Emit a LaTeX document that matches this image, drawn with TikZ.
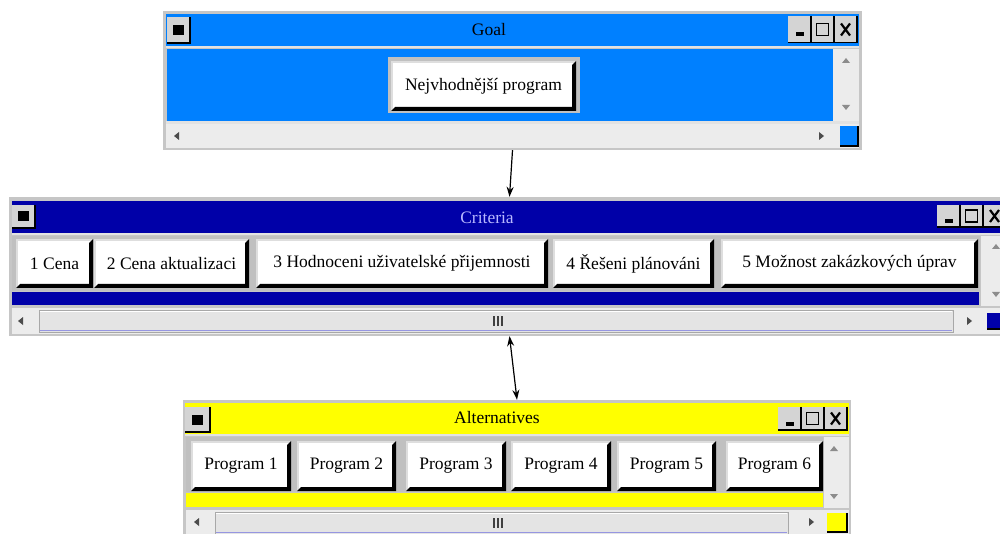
\documentclass[tikz,border=0pt]{standalone}
\usepackage{fontspec}
\setmainfont{Liberation Serif}
\usetikzlibrary{calc,arrows.meta}

\definecolor{goalblue}{RGB}{0,128,255}
\definecolor{critblue}{RGB}{0,0,168}
\definecolor{altyellow}{RGB}{255,255,0}
\definecolor{winframe}{RGB}{198,198,198}
\definecolor{panelgray}{RGB}{192,192,192}
\definecolor{scrollbg}{RGB}{236,236,236}
\definecolor{sepline}{RGB}{226,226,226}
\definecolor{btnhi}{RGB}{222,222,222}
\definecolor{tbtnface}{RGB}{212,212,212}
\definecolor{arrowgray}{RGB}{140,140,140}
\definecolor{trackface}{RGB}{228,228,228}
\definecolor{trackedge}{RGB}{168,168,168}
\definecolor{trackblue}{RGB}{150,150,225}
\definecolor{crittitle}{RGB}{185,185,255}

\newcommand\uifont{\fontsize{17.5}{20}\selectfont}

\tikzset{
  x=1pt, y=-1pt,
  winbox/.style={fill=winframe, draw=none, inner sep=0pt},
  uibtn/.style={fill=white, draw=btnhi, line width=2pt, inner sep=0pt,
    font=\uifont, text=black},
  tbtn/.style={fill=tbtnface, draw=none, inner sep=0pt},
  closebtn/.style={fill=tbtnface, draw=none, inner sep=0pt},
  cornerbox/.style={draw=none, inner sep=0pt},
  titletext/.style={font=\uifont, inner sep=0pt},
  conn/.style={line width=1.2pt, black},
  tip/.tip={Stealth[length=10pt,width=7pt]},
}

% raised push button: white face, light top/left edge, black bevel bottom/right
\newcommand\uibutton[6]{%
  \node[uibtn, minimum width={#4-#2}, minimum height={#5-#3}]
    (#1) at ({(#2+#4)/2},{(#3+#5)/2}) {#6};
  \fill[black] (#1.north east) -- (#1.south east) -- (#1.south west)
    -- ([shift={(4,-4)}]#1.south west) -- ([shift={(-4,-4)}]#1.south east)
    -- ([shift={(-4,4)}]#1.north east) -- cycle;
}

% black edge along the bottom and right side of a node
\newcommand\darkedge[2]{%
  \draw[black, line width=#2] (#1.north east) -- (#1.south east) -- (#1.south west);
}

% minimise / maximise / close buttons of a title bar
\newcommand\titlebtns[4]{%
  \node[tbtn, minimum width=23, minimum height=#4] (#1-min) at ({#2+11.5},#3) {};
  \node[tbtn, minimum width=23, minimum height=#4] (#1-max) at ({#2+34.5},#3) {};
  \node[tbtn, minimum width=23, minimum height=#4] (#1-cls) at ({#2+57.5},#3) {};
  \darkedge{#1-min}{1.6pt}\darkedge{#1-max}{1.6pt}\darkedge{#1-cls}{1.6pt}
  \fill[black] ($(#1-min.center)+(-4,3)$) rectangle ++(8,4);
  \draw[black, line width=1.4pt] ($(#1-max.center)+(-6,-6)$) rectangle ++(12,12);
  \draw[black, line width=2.2pt] ($(#1-cls.center)+(-4.5,-6)$) -- ++(9,12)
    ($(#1-cls.center)+(4.5,-6)$) -- ++(-9,12);
}

% window-menu box at the left end of a title bar
\newcommand\menubox[4]{%
  \node[closebtn, minimum width=#3, minimum height=#4] (#1) at #2 {};
  \darkedge{#1}{2pt}
  \node[fill=black, minimum width=11, minimum height=10, inner sep=0pt] (#1-dot) at (#1.center) {};
}

% small scroll arrows
\newcommand\arrowup[2]{\fill[arrowgray] ({#1-4},{#2+3}) -- ({#1+4},{#2+3}) -- (#1,{#2-2}) -- cycle;}
\newcommand\arrowdown[2]{\fill[arrowgray] ({#1-4},{#2-3}) -- ({#1+4},{#2-3}) -- (#1,{#2+2}) -- cycle;}
\newcommand\arrowleft[2]{\fill[black!70] ({#1+3},{#2-4}) -- ({#1+3},{#2+4}) -- ({#1-2},#2) -- cycle;}
\newcommand\arrowright[2]{\fill[black!70] ({#1-3},{#2-4}) -- ({#1-3},{#2+4}) -- ({#1+2},#2) -- cycle;}

% full-length scroll slider with its grip
\newcommand\slider[6]{%
  \node[fill=trackface, draw=trackedge, line width=0.8pt, inner sep=0pt,
    minimum width={#4-#2}, minimum height={#5-#3}] (#1) at ({(#2+#4)/2},{(#3+#5)/2}) {};
  \draw[white, line width=1.2pt] ([shift={(1,2)}]#1.north west) -- ([shift={(-1,2)}]#1.north east);
  \draw[trackblue, line width=1.2pt] ([shift={(1,-2)}]#1.south west) -- ([shift={(-1,-2)}]#1.south east);
  \foreach \gx in {-5,-1,3}
    \draw[black!75, line width=1.3pt] ({#6+\gx},{(#3+#5)/2-5}) -- ++(0,10);
}

\begin{document}
\begin{tikzpicture}
\clip (0,0) rectangle (1000,534);
\fill[white] (0,0) rectangle (1000,534);

% ---------------- Goal ----------------
\node[winbox, minimum width=699, minimum height=139] (goalwin) at (512.5,80.5) {};
\fill[goalblue] (166,14) rectangle (859,46);
\fill[sepline] (166,46) rectangle (859,48);
\fill[goalblue] (167,49) rectangle (833,121);
\fill[scrollbg] (833,49) rectangle (859,121);
\fill[sepline] (166,121) rectangle (859,124);
\fill[scrollbg] (166,124) rectangle (859,148);
\menubox{goalmenu}{(178.5,30)}{23}{25}
\node[titletext] (goaltitle) at (489,30) {Goal};
\titlebtns{goaltb}{788}{29.5}{26}
\arrowup{846}{60}
\arrowdown{846}{108}
\arrowleft{176}{136}
\arrowright{822}{136}
\node[cornerbox, fill=goalblue, minimum width=18, minimum height=20] (goalcorner) at (849,136) {};
\darkedge{goalcorner}{1.6pt}
\node[fill=panelgray, inner sep=0pt, minimum width=192, minimum height=56] (goalpanel) at (484,85) {};
\uibutton{goalbtn}{392}{62}{575}{110}{Nejvhodnější program}

% ---------------- Criteria ----------------
\node[winbox, minimum width=1001, minimum height=139] (critwin) at (509.5,266.5) {};
\fill[critblue] (12,201) rectangle (1010,233);
\fill[sepline] (12,233) rectangle (1010,235);
\fill[panelgray] (12,236) rectangle (980,291);
\fill[critblue] (12,292) rectangle (979,305);
\fill[scrollbg] (981,236) rectangle (1010,306);
\fill[scrollbg] (12,308) rectangle (1010,334);
\menubox{critmenu}{(23.5,216.5)}{23}{23}
\node[titletext, text=crittitle] (crittitle) at (487,218) {Criteria};
\titlebtns{crittb}{937}{216}{22}
\arrowup{996}{246}
\arrowdown{996}{295}
\arrowleft{20}{321}
\arrowright{970}{321}
\slider{crittrack}{39}{310}{953}{332}{499}
\node[cornerbox, fill=critblue, minimum width=18, minimum height=16] (critcorner) at (996,320.5) {};
\darkedge{critcorner}{1.6pt}
\uibutton{crit1}{17}{240}{92}{287}{1 Cena}
\uibutton{crit2}{95}{240}{248}{287}{2 Cena aktualizaci}
\uibutton{crit3}{257}{240}{547}{287}{3 Hodnoceni uživatelské přijemnosti}
\uibutton{crit4}{554}{240}{713}{287}{4 Řešeni plánováni}
\uibutton{crit5}{722}{240}{977}{287}{5 Možnost zakázkových úprav}

% ---------------- Alternatives ----------------
\node[winbox, minimum width=668, minimum height=140] (altwin) at (517,470) {};
\fill[altyellow] (185,403) rectangle (849,434);
\fill[sepline] (185,434) rectangle (849,436);
\fill[panelgray] (186,437) rectangle (823,492);
\fill[altyellow] (186,493) rectangle (823,507);
\fill[scrollbg] (824,437) rectangle (849,508);
\fill[scrollbg] (186,510) rectangle (849,540);
\menubox{altmenu}{(197.5,419.5)}{25}{25}
\node[titletext] (alttitle) at (497,418) {Alternatives};
\titlebtns{alttb}{778}{418.5}{23}
\arrowup{834}{448}
\arrowdown{834}{497}
\arrowleft{196}{522}
\arrowright{812}{522}
\slider{alttrack}{215}{512}{788}{534}{499}
\node[cornerbox, fill=altyellow, minimum width=20, minimum height=19] (altcorner) at (837,522.5) {};
\darkedge{altcorner}{1.6pt}
\uibutton{prog1}{192}{442}{290}{490}{Program 1}
\uibutton{prog2}{298}{442}{395}{490}{Program 2}
\uibutton{prog3}{407}{442}{505}{490}{Program 3}
\uibutton{prog4}{512}{442}{610}{490}{Program 4}
\uibutton{prog5}{618}{442}{715}{490}{Program 5}
\uibutton{prog6}{727}{442}{822}{490}{Program 6}

% ---------------- links ----------------
\draw[conn, -tip] (goalwin.south) -- (critwin.north);
\draw[conn, tip-tip] (critwin.south) -- (altwin.north);
\end{tikzpicture}
\end{document}
